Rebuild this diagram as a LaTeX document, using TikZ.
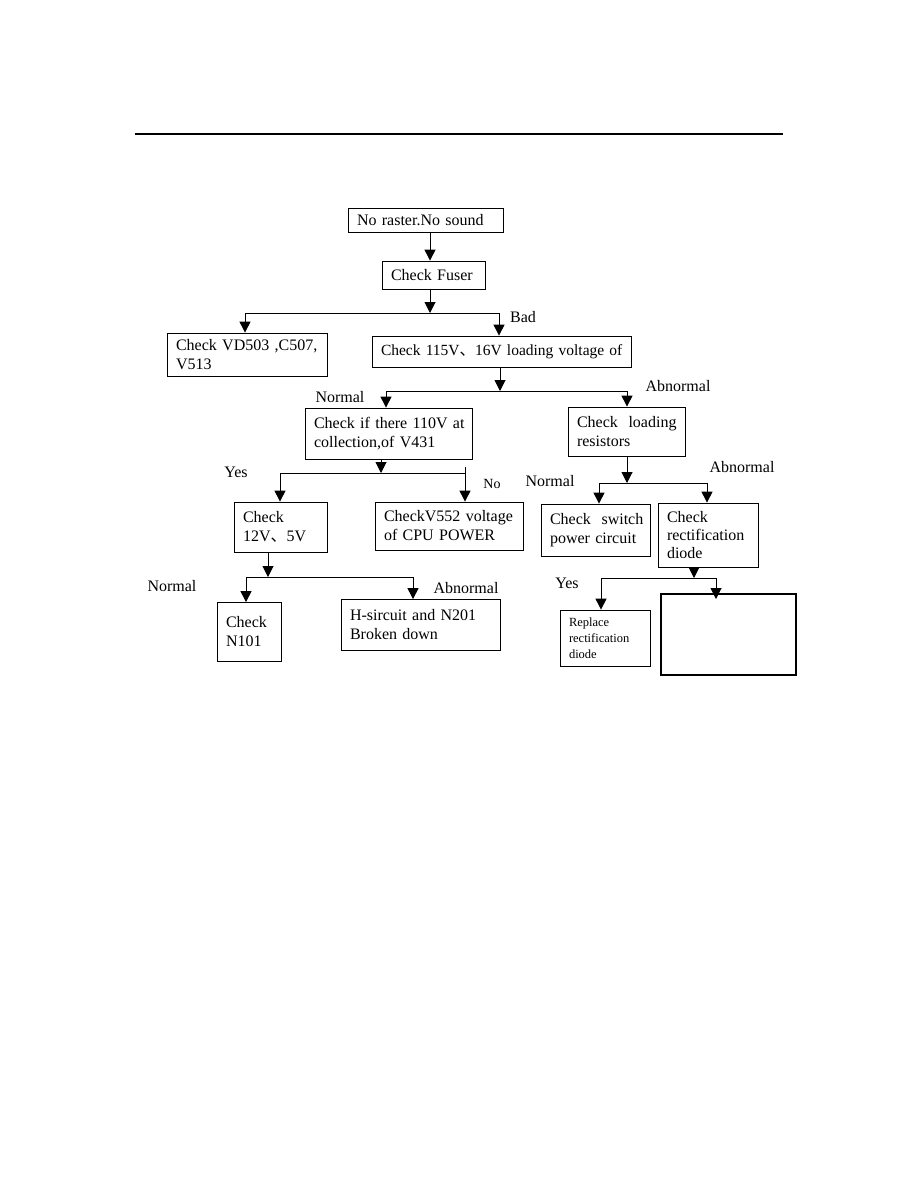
\documentclass[tikz,border=0pt]{standalone}
\usepackage{fontspec}
\setmainfont{Liberation Serif}
\newfontfamily\cjk{Noto Sans CJK SC}
\usetikzlibrary{arrows.meta}
\newcommand\dun{{\cjk 、}}
\begin{document}
\begin{tikzpicture}[x=1pt,y=-1pt,
  box/.style={draw,line width=0.8pt,rectangle,inner xsep=9pt,inner ysep=0pt,align=left,font=\fontsize{16}{19}\selectfont},
  lbl/.style={font=\fontsize{16}{19}\selectfont,inner sep=0pt},
  arr/.style={line width=1pt,-{Triangle[length=11pt,width=11pt]}},
  ln/.style={line width=1pt}]
\useasboundingbox[fill=white] (0,0) rectangle (918,1188);
% top rule
\coordinate (r1) at (135,134); \coordinate (r2) at (783,134);
\draw[line width=2pt] (r1) -- (r2);

% boxes
\node[box,minimum width=155pt,minimum height=24pt,text width=137pt] (b1) at (425.5,220) {No raster.No sound};
\node[box,minimum width=103pt,minimum height=28pt,text width=85pt] (b2) at (433.5,275) {Check Fuser};
\node[box,minimum width=160pt,minimum height=43pt,text width=142pt] (b3) at (247,354.5) {Check VD503 ,C507,\\V513};
\node[box,minimum width=259pt,minimum height=31pt,text width=241pt,font=\fontsize{15.5}{19}\selectfont] (b4) at (501.5,351.5) {\mbox{Check 115V\dun16V loading voltage of}};
\node[box,minimum width=167pt,minimum height=51pt,text width=149pt] (b5) at (388.5,433.5) {\mbox{Check if there 110V at}\\collection,of V431};
\node[box,minimum width=117pt,minimum height=49pt,text width=99pt] (b6) at (626.5,431.5) {\mbox{Check\ \ loading}\\resistors};
\node[box,minimum width=93pt,minimum height=50pt,text width=75pt] (b7) at (280.5,527) {Check\\12V\dun5V};
\node[box,minimum width=148pt,minimum height=48pt,text width=130pt] (b8) at (449,526) {\mbox{CheckV552 voltage}\\of CPU POWER};
\node[box,minimum width=109pt,minimum height=52pt,text width=91pt] (b9) at (595.5,530) {\mbox{Check\ \ switch}\\\mbox{power circuit}};
\node[box,minimum width=100pt,minimum height=64pt,text width=82pt,font=\fontsize{16}{18}\selectfont] (b10) at (708,535) {Check\\rectification\\diode};
\node[box,minimum width=64pt,minimum height=59pt,text width=46pt] (b11) at (249,632) {Check\\N101};
\node[box,minimum width=159pt,minimum height=51pt,text width=141pt] (b12) at (420.5,625) {\mbox{H-sircuit and N201}\\Broken down};
\node[box,minimum width=90pt,minimum height=56pt,text width=72pt,font=\fontsize{12.5}{16}\selectfont] (b13) at (605,638) {Replace\\rectification\\diode};
\node[draw,line width=2pt,minimum width=135pt,minimum height=81pt,inner sep=0pt] (b14) at (728.5,634.5) {};

% labels
\node[lbl] (lBad) at (523,317) {Bad};
\node[lbl] (lN1) at (340,397) {Normal};
\node[lbl] (lA1) at (678,386) {Abnormal};
\node[lbl] (lY1) at (236,472) {Yes};
\node[lbl,font=\fontsize{14}{16}\selectfont] (lNo) at (492,484) {No};
\node[lbl] (lN2) at (550,481) {Normal};
\node[lbl] (lA2) at (742,467) {Abnormal};
\node[lbl] (lN3) at (172,586) {Normal};
\node[lbl] (lA3) at (466,588) {Abnormal};
\node[lbl] (lY2) at (567,583) {Yes};

% connectors
\coordinate (j1) at (430,313);
\coordinate (j1l) at (245,313); \coordinate (j1r) at (499,313);
\draw[arr] (b1.south -| j1) -- (b2.north -| j1);
\draw[arr] (b2.south -| j1) -- (j1);
\draw[ln] (j1l) -- (j1r);
\draw[arr] (j1l) -- (b3.north -| j1l);
\draw[arr] (j1r) -- (b4.north -| j1r);

\coordinate (j2) at (500,391);
\coordinate (j2l) at (386,391); \coordinate (j2r) at (627,391);
\draw[arr] (b4.south -| j2) -- (j2);
\draw[ln] (j2l) -- (j2r);
\draw[arr] (j2l) -- (b5.north -| j2l);
\draw[arr] (j2r) -- (b6.north -| j2r);

\coordinate (j3) at (381,473);
\coordinate (j3l) at (280,473); \coordinate (j3r) at (465,473);
\coordinate (t3) at (465,467);
\draw[arr] (b5.south -| j3) -- (j3);
\draw[ln] (j3l) -- (j3r);
\draw[arr] (j3l) -- (b7.north -| j3l);
\draw[arr] (t3) -- (b8.north -| j3r);

\coordinate (j4) at (627,483);
\coordinate (j4l) at (599,483); \coordinate (j4r) at (707,483);
\draw[arr] (b6.south -| j4) -- (j4);
\draw[ln] (j4l) -- (j4r);
\draw[arr] (j4l) -- (b9.north -| j4l);
\draw[arr] (j4r) -- (b10.north -| j4r);

\coordinate (j5) at (268,577);
\coordinate (j5l) at (246,577); \coordinate (j5r) at (413,577);
\draw[arr] (b7.south -| j5) -- (j5);
\draw[ln] (j5l) -- (j5r);
\draw[arr] (j5l) -- (b11.north -| j5l);
\draw[arr] (j5r) -- (b12.north -| j5r);

\coordinate (j6) at (694,578);
\coordinate (j6l) at (601,578); \coordinate (j6r) at (716,578);
\coordinate (e14) at (716,599);
\draw[arr] (b10.south -| j6) -- (j6);
\draw[ln] (j6l) -- (j6r);
\draw[arr] (j6l) -- (b13.north -| j6l);
\draw[arr] (j6r) -- (e14);
\end{tikzpicture}
\end{document}
